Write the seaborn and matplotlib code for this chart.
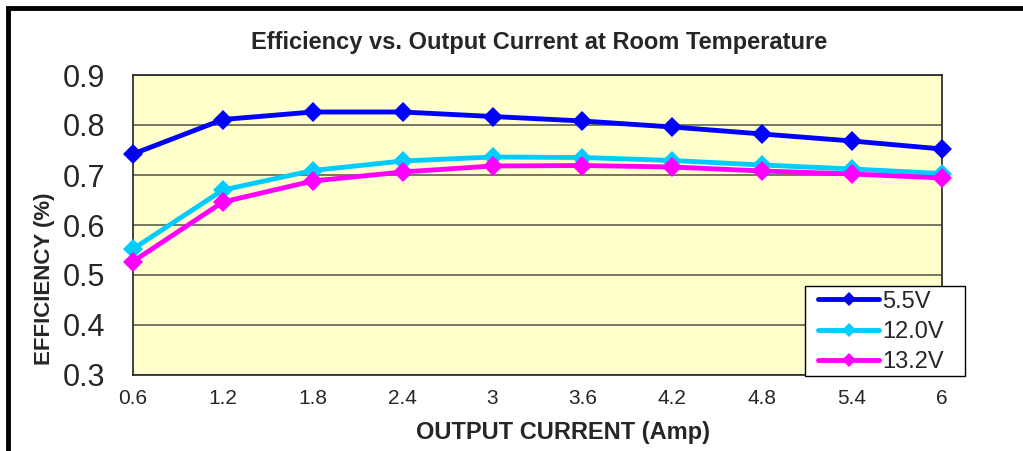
import numpy as np
import pandas as pd
import matplotlib
matplotlib.use("Agg")
import matplotlib.pyplot as plt
from matplotlib.patches import Rectangle
import seaborn as sns

current = [0.6, 1.2, 1.8, 2.4, 3.0, 3.6, 4.2, 4.8, 5.4, 6.0]
tick_labels = ["0.6", "1.2", "1.8", "2.4", "3", "3.6", "4.2", "4.8", "5.4", "6"]
eff_5v5 = [0.742, 0.811, 0.826, 0.826, 0.817, 0.808, 0.796, 0.782, 0.768, 0.752]
eff_12v0 = [0.552, 0.670, 0.709, 0.728, 0.736, 0.735, 0.729, 0.720, 0.712, 0.703]
eff_13v2 = [0.527, 0.646, 0.688, 0.706, 0.718, 0.719, 0.716, 0.708, 0.702, 0.694]
series = ["5.5V", "12.0V", "13.2V"]
colors = ["#0000FF", "#00CCFF", "#FF00FF"]

df = pd.DataFrame({
    "current": current * 3,
    "eff": eff_5v5 + eff_12v0 + eff_13v2,
    "series": [s for s in series for _ in current],
})

sns.set_style("white")
plt.rcParams["font.family"] = ["Liberation Sans", "DejaVu Sans"]

fig = plt.figure(figsize=(10.23, 4.51), dpi=100)
ax = fig.add_axes([133 / 1023, 1 - 375 / 451, (942 - 133) / 1023, 300 / 451])
ax.set_facecolor("#FFFFCC")

sns.lineplot(data=df, x="current", y="eff", hue="series", hue_order=series,
             palette=colors, marker="D", markersize=10, markeredgewidth=0,
             linewidth=3.5, ax=ax, clip_on=False, zorder=3)

ax.set_xlim(0.6, 6.0)
ax.set_ylim(0.3, 0.9)
ax.set_xticks(current)
ax.set_xticklabels(tick_labels, fontsize=15)
ax.set_yticks([0.3, 0.4, 0.5, 0.6, 0.7, 0.8, 0.9])
ax.set_yticklabels(["0.3", "0.4", "0.5", "0.6", "0.7", "0.8", "0.9"], fontsize=22)
ax.tick_params(axis="both", direction="in", length=6, width=1, color="#333333")
ax.tick_params(axis="x", pad=10)
ax.tick_params(axis="y", pad=20)
ax.yaxis.grid(True, color="#606050", linewidth=1.2)
ax.set_axisbelow(True)
for sp in ax.spines.values():
    sp.set_color("#222222")
    sp.set_linewidth(1.2)

ax.set_xlabel("OUTPUT CURRENT (Amp)", fontsize=17, fontweight="bold")
ax.set_ylabel("EFFICIENCY (%)", fontsize=16, fontweight="bold")
ax.xaxis.set_label_coords((563 - 133) / 809, (375 - 432) / 300)
ax.yaxis.set_label_coords((45 - 133) / 809, (375 - 279) / 300)
ax.xaxis.label.set_va("center")
ax.yaxis.label.set_va("center")
fig.text(539 / 1023, 1 - 42 / 451, "Efficiency vs. Output Current at Room Temperature",
         ha="center", va="center", fontsize=17, fontweight="bold")

handles, labels = ax.get_legend_handles_labels()
ax.legend(handles, labels, loc="center left",
          bbox_to_anchor=(818 / 1023, 1 - 332 / 451), bbox_transform=fig.transFigure,
          fontsize=17, frameon=False, markerscale=0.75,
          borderpad=0, labelspacing=0.36, handlelength=2.6,
          handletextpad=0.1, borderaxespad=0)
fig.patches.append(Rectangle((805 / 1023, 1 - 376 / 451), 160 / 1023, 90 / 451,
                             transform=fig.transFigure, facecolor="white",
                             edgecolor="black", linewidth=1, zorder=4))
leg = ax.get_legend()
leg.set_zorder(5)
leg.set_figure(fig)
ax.legend_ = None
fig.legends.append(leg)

fig.patches.append(Rectangle((8 / 1023, -0.1), 1.2, 1 - 8 / 451 + 0.1,
                             transform=fig.transFigure, fill=False,
                             edgecolor="black", linewidth=3.5))

fig.savefig("out.png", dpi=100)
